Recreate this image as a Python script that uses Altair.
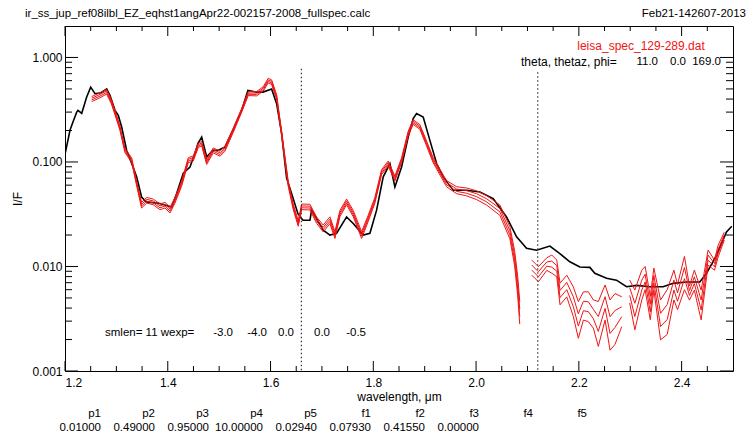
import altair as alt
import pandas as pd

# ---------------- data ----------------
black_w = [1.200, 1.2097, 1.2155, 1.2228, 1.2253, 1.2325, 1.2422, 1.250, 1.2584, 1.270,
           1.2811, 1.2875, 1.2973, 1.3037, 1.3103, 1.320, 1.3298, 1.3395, 1.3492, 1.359,
           1.3848, 1.4076, 1.4173, 1.4302, 1.4432, 1.4529, 1.4588, 1.466, 1.4757, 1.488,
           1.4977, 1.5113, 1.5268, 1.5438, 1.556, 1.573, 1.5852, 1.6021, 1.6119, 1.6216,
           1.6313, 1.641, 1.6533, 1.663, 1.6767, 1.680, 1.7025, 1.7156, 1.7286, 1.748,
           1.7609, 1.7803, 1.7934, 1.8064, 1.8193, 1.8323, 1.842, 1.855, 1.8679, 1.8776,
           1.8842, 1.8971, 1.9101, 1.9232, 1.936, 1.9555, 1.9815, 2.0074, 2.0333, 2.0593,
           2.0788, 2.0982, 2.1177, 2.1436, 2.163, 2.1825, 2.2019, 2.2214, 2.2311, 2.2539,
           2.2733, 2.2928, 2.3123, 2.3381, 2.364, 2.3835, 2.4095, 2.4354, 2.4484, 2.4679,
           2.4873, 2.4977]
black_v = [0.118, 0.201, 0.241, 0.300, 0.312, 0.292, 0.418, 0.520, 0.450, 0.460,
           0.500, 0.434, 0.312, 0.279, 0.216, 0.129, 0.097, 0.072, 0.046, 0.0415,
           0.040, 0.037, 0.050, 0.078, 0.0896, 0.121, 0.151, 0.173, 0.112, 0.129,
           0.129, 0.139, 0.201, 0.312, 0.484, 0.466, 0.466, 0.500, 0.361, 0.187,
           0.070, 0.050, 0.032, 0.0277, 0.0277, 0.0346, 0.0223, 0.020, 0.0208, 0.0298,
           0.0258, 0.020, 0.0208, 0.0346, 0.072, 0.0966, 0.0577, 0.0896, 0.173, 0.260,
           0.290, 0.269, 0.161, 0.0966, 0.072, 0.0537, 0.0537, 0.0517, 0.0447, 0.0298,
           0.0192, 0.0149, 0.0143, 0.0157, 0.0133, 0.0111, 0.0099, 0.0098, 0.0086, 0.0077,
           0.0074, 0.0064, 0.0066, 0.0064, 0.0064, 0.0069, 0.0071, 0.0071, 0.0086, 0.0128,
           0.0214, 0.0243]

# red spectra: centre of the bundle of 4 lines and the log10 step between lines
seg1_w = [1.252, 1.266, 1.281, 1.290, 1.300, 1.307, 1.3167, 1.3232, 1.3298, 1.3395,
          1.349, 1.359, 1.3718, 1.3848, 1.3945, 1.4043, 1.414, 1.427, 1.4399, 1.4496,
          1.4593, 1.466, 1.4757, 1.4885, 1.5016, 1.5113, 1.5274, 1.5438, 1.5566, 1.573,
          1.5858, 1.5955, 1.6021, 1.6119, 1.6216, 1.6344, 1.6442, 1.6539, 1.6605, 1.6767,
          1.6897, 1.7025, 1.7156, 1.7253, 1.735, 1.748, 1.7609, 1.7772, 1.790, 1.8031,
          1.8161, 1.829, 1.842, 1.855, 1.8679, 1.8776, 1.8907, 1.9037, 1.9165, 1.9296,
          1.9426, 1.962, 1.9815, 2.001, 2.0204, 2.0463, 2.0658, 2.075, 2.081, 2.085]
seg1_c = [0.40, 0.43, 0.47, 0.38, 0.27, 0.21, 0.129, 0.116, 0.104, 0.062,
          0.0386, 0.043, 0.0415, 0.0372, 0.0386, 0.0346, 0.043, 0.062, 0.104, 0.108,
          0.144, 0.150, 0.100, 0.129, 0.120, 0.134, 0.201, 0.312, 0.45, 0.45,
          0.50, 0.60, 0.58, 0.418, 0.187, 0.062, 0.0372, 0.0258, 0.0372, 0.037,
          0.0277, 0.0231, 0.0277, 0.020, 0.0321, 0.0415, 0.0321, 0.020, 0.0288, 0.043,
          0.080, 0.0966, 0.0694, 0.104, 0.187, 0.241, 0.216, 0.150, 0.104, 0.080,
          0.062, 0.0537, 0.0517, 0.0481, 0.043, 0.0346, 0.021, 0.012, 0.0065, 0.0036]
seg1_s = [0.016, 0.016, 0.015, 0.014, 0.014, 0.014, 0.014, 0.014, 0.014, 0.014,
          0.018, 0.018, 0.018, 0.018, 0.018, 0.018, 0.018, 0.016, 0.016, 0.016,
          0.014, 0.014, 0.016, 0.016, 0.016, 0.016, 0.014, 0.012, 0.012, 0.014,
          0.014, 0.015, 0.015, 0.014, 0.014, 0.016, 0.018, 0.018, 0.018, 0.018,
          0.02, 0.022, 0.022, 0.022, 0.02, 0.018, 0.02, 0.022, 0.02, 0.018,
          0.016, 0.016, 0.016, 0.015, 0.015, 0.015, 0.015, 0.016, 0.016, 0.018,
          0.02, 0.022, 0.025, 0.028, 0.03, 0.033, 0.038, 0.048, 0.062, 0.072]

seg2_w = [2.1084, 2.1213, 2.1376, 2.1473, 2.157, 2.1634, 2.1765, 2.1893, 2.199,
          2.2088, 2.2185, 2.2282, 2.2379, 2.251, 2.2607, 2.2704, 2.2835]
seg2_c = [0.00976, 0.00843, 0.01054, 0.01054, 0.0096, 0.00545, 0.0065, 0.0046, 0.00308,
          0.00419, 0.00412, 0.00351, 0.00282, 0.00452, 0.00275, 0.00315, 0.00369]
seg2_s = [0.048, 0.048, 0.04, 0.058, 0.053, 0.069, 0.069, 0.095, 0.117,
          0.09, 0.095, 0.09, 0.143, 0.112, 0.16, 0.162, 0.095]

seg3_w = [2.299, 2.309, 2.3225, 2.329, 2.339, 2.346, 2.359, 2.372, 2.385, 2.392,
          2.4055, 2.4153, 2.4248, 2.438, 2.4515, 2.464, 2.471, 2.483]
seg3_c = [0.00576, 0.00384, 0.00664, 0.00775, 0.0040, 0.00758, 0.00308, 0.00367, 0.00664, 0.0051,
          0.00865, 0.00557, 0.0074, 0.00428, 0.01216, 0.0103, 0.014, 0.0195]
seg3_s = [0.073, 0.127, 0.095, 0.074, 0.074, 0.07, 0.127, 0.143, 0.095, 0.08,
          0.106, 0.045, 0.064, 0.095, 0.048, 0.032, 0.038, 0.025]

marker_w = [1.66, 2.12]
marker_top = [0.78, 0.72]

x_major = [1.2, 1.4, 1.6, 1.8, 2.0, 2.2, 2.4]
x_minor = [1.25, 1.30, 1.35, 1.45, 1.50, 1.55, 1.65, 1.70, 1.75, 1.85, 1.90, 1.95,
           2.05, 2.10, 2.15, 2.25, 2.30, 2.35, 2.45]
y_major = [0.001, 0.01, 0.1, 1.0]
y_minor = [0.002, 0.003, 0.004, 0.005, 0.006, 0.007, 0.008, 0.009,
           0.02, 0.03, 0.04, 0.05, 0.06, 0.07, 0.08, 0.09,
           0.2, 0.3, 0.4, 0.5, 0.6, 0.7, 0.8, 0.9]

title_left = "ir_ss_jup_ref08ilbl_EZ_eqhst1angApr22-002157-2008_fullspec.calc"
title_right = "Feb21-142607-2013"
red_label = "leisa_spec_129-289.dat"
theta_parts = ["theta, thetaz, phi=", "11.0", "0.0", "169.0"]
sm_parts = ["smlen= 11 wexp=", "-3.0", "-4.0", "0.0", "0.0", "-0.5"]
par_names = ["p1", "p2", "p3", "p4", "p5", "f1", "f2", "f3", "f4", "f5"]
par_values = ["0.01000", "0.49000", "0.95000", "10.00000", "0.02940",
              "0.07930", "0.41550", "0.00000"]

# ---------------- layout ----------------
W, H = 668, 345
PL, PT = 65, 26
FONT = "Liberation Sans"
RED = "#f01414"

xs = alt.Scale(domain=[1.2, 2.5], nice=False, zero=False)
ys = alt.Scale(type="log", domain=[0.001, 2.0], nice=False)

X_AX = alt.Axis(values=x_major, format=".1f", ticks=False, domain=False, grid=False,
                labelFont=FONT, labelFontSize=12, labelColor="black", labelPadding=6,
                title="wavelength, \u03bcm", titleFont=FONT, titleFontSize=12,
                titleFontWeight="normal", titleColor="black", titlePadding=3)
Y_AX = alt.Axis(values=y_major, format=".3f", ticks=False, domain=False, grid=False,
                labelFont=FONT, labelFontSize=12, labelColor="black", labelPadding=3,
                title="I/F", titleFont=FONT, titleFontSize=12, titleFontWeight="normal",
                titleColor="black", titlePadding=7)


def X(field="w"):
    return alt.X(f"{field}:Q", scale=xs, axis=X_AX)


def Y(field="v"):
    return alt.Y(f"{field}:Q", scale=ys, axis=Y_AX)


black_df = pd.DataFrame({"w": black_w, "v": black_v})
rows = []
for sid, (ws, cs, ss) in enumerate([(seg1_w, seg1_c, seg1_s),
                                    (seg2_w, seg2_c, seg2_s),
                                    (seg3_w, seg3_c, seg3_s)]):
    for k in range(4):
        for w, c, s in zip(ws, cs, ss):
            rows.append({"w": w, "v": c * 10 ** (s * (1.5 - k)), "grp": f"{sid}-{k}"})
red_df = pd.DataFrame(rows)

black = alt.Chart(black_df).mark_line(color="black", strokeWidth=1.6, clip=True).encode(
    x=X(), y=Y())

red = alt.Chart(red_df).mark_line(color=RED, strokeWidth=1, clip=True).encode(
    x=X(), y=Y(), detail="grp:N")

mk_df = pd.DataFrame({"w": marker_w, "v": marker_top,
                      "v0": [0.001] * len(marker_w)})
markers = alt.Chart(mk_df).mark_rule(color="#333333", strokeWidth=1.2,
                                     strokeDash=[1.5, 2.5]).encode(
    x=X(), y=Y(), y2="v0:Q")


def xticks(vals, length):
    df = pd.DataFrame({"w": vals})
    bot = alt.Chart(df).mark_rule(color="black", strokeWidth=1).encode(
        x=X(), y=alt.value(H), y2=alt.value(H - length))
    top = alt.Chart(df).mark_rule(color="black", strokeWidth=1).encode(
        x=X(), y=alt.value(0), y2=alt.value(length))
    return [bot, top]


def yticks(vals, length):
    df = pd.DataFrame({"v": vals})
    left = alt.Chart(df).mark_rule(color="black", strokeWidth=1).encode(
        y=Y(), x=alt.value(0), x2=alt.value(length))
    right = alt.Chart(df).mark_rule(color="black", strokeWidth=1).encode(
        y=Y(), x=alt.value(W), x2=alt.value(W - length))
    return [left, right]


tick_layers = xticks(x_major, 10) + xticks(x_minor, 5) + yticks(y_major, 13) + yticks(y_minor, 7)

one = pd.DataFrame({"t": [""]})


def label(text, px, py, align="left", color="black", size=11.5):
    return alt.Chart(one).mark_text(
        text=text, align=align, baseline="middle", font=FONT, fontSize=size,
        color=color).encode(x=alt.value(px - PL), y=alt.value(py - PT))


texts = [
    label(title_left, 25, 14),
    label(title_right, 746, 14, align="right"),
    label(red_label, 641, 46, align="center", color=RED, size=12),
    label(theta_parts[0], 521, 62, size=12),
]
for part, rx in zip(theta_parts[1:], [658, 686, 721]):
    texts.append(label(part, rx, 62, align="right", size=11.5))
sm_x = [105, 233, 267, 294, 330, 366]
for i, (part, px) in enumerate(zip(sm_parts, sm_x)):
    texts.append(label(part, px, 333, align="left" if i == 0 else "right"))
for i, name in enumerate(par_names):
    texts.append(label(name, 101 + 54 * i, 414, align="right"))
for i, val in enumerate(par_values):
    texts.append(label(val, 101 + 54 * i, 428, align="right"))

chart = alt.layer(black, red, markers, *tick_layers, *texts).properties(
    width=W, height=H,
    padding={"left": PL, "top": PT, "right": 748 - PL - W, "bottom": 437 - PT - H},
    autosize=alt.AutoSizeParams(type="none"),
    background="white",
).configure_view(stroke="black", strokeWidth=1)

chart.save("out.html", embed_options={"renderer": "svg", "actions": False})
